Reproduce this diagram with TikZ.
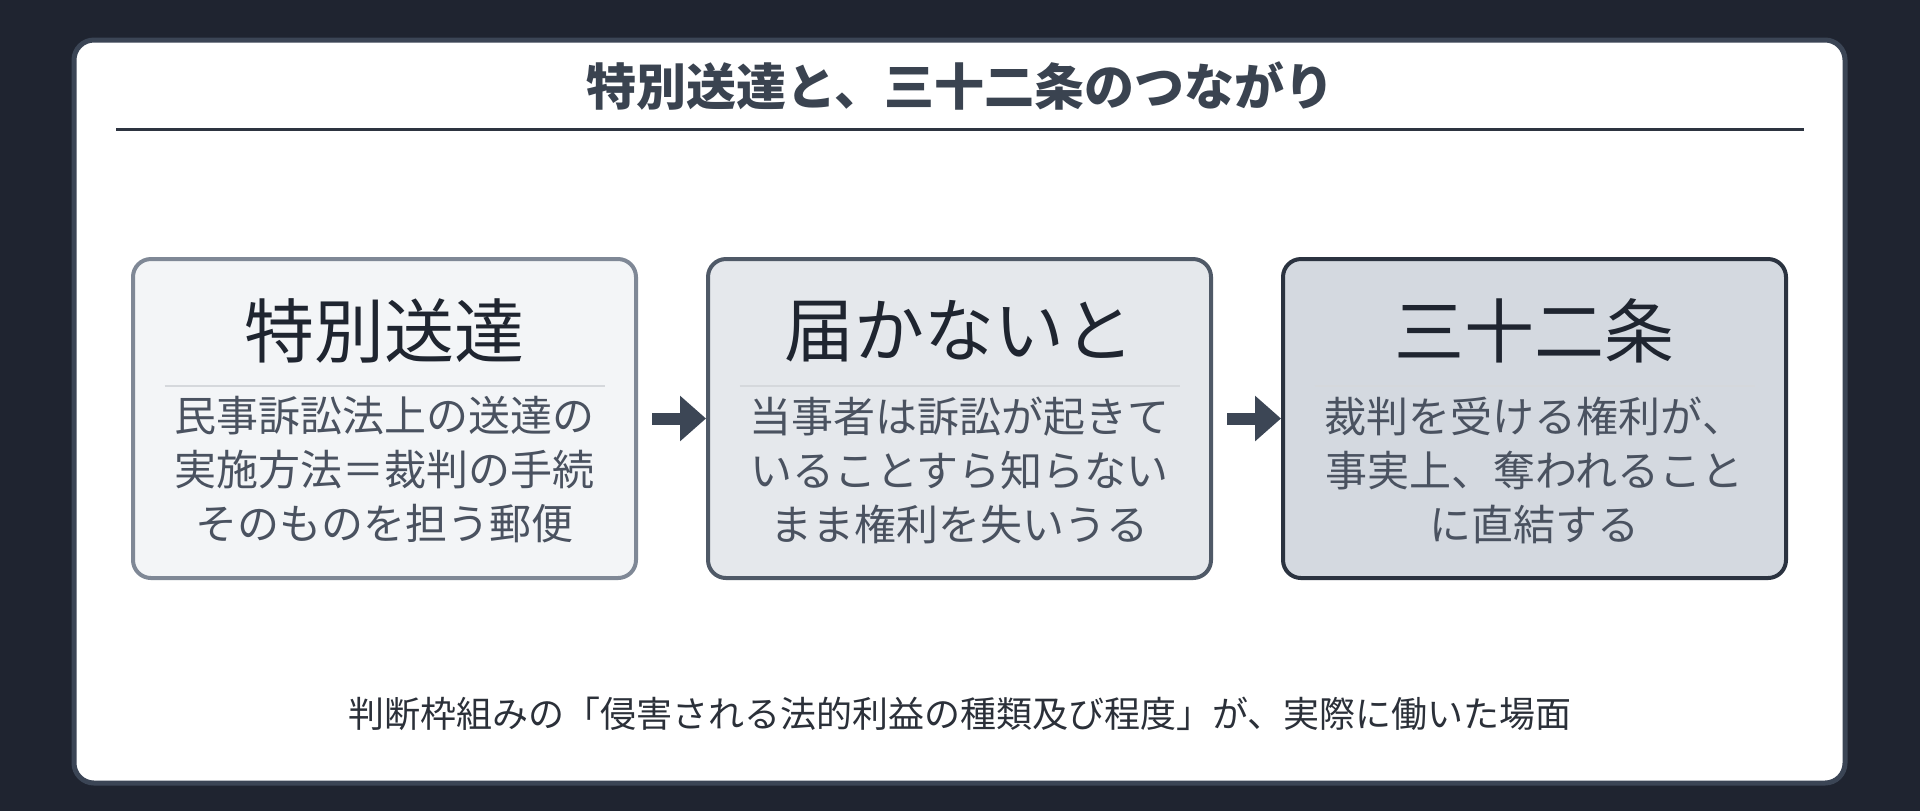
\documentclass[tikz,border=0pt]{standalone}
\usepackage{fontspec}
\setmainfont{Noto Sans CJK JP}
\usetikzlibrary{arrows.meta}
\definecolor{bgdark}{HTML}{1F2430}
\definecolor{cardedge}{HTML}{3B4555}
\definecolor{titleink}{HTML}{3A4350}
\definecolor{ruleink}{HTML}{2D3440}
\definecolor{fillA}{HTML}{F3F5F7}
\definecolor{edgeA}{HTML}{7F8896}
\definecolor{fillB}{HTML}{E5E8EC}
\definecolor{edgeB}{HTML}{4F5967}
\definecolor{fillC}{HTML}{D4D9E0}
\definecolor{edgeC}{HTML}{2B3340}
\definecolor{headink}{HTML}{1F2530}
\definecolor{bodyink}{HTML}{4A5260}
\definecolor{sepink}{HTML}{D5D8DC}
\definecolor{arrowink}{HTML}{3C4655}
\definecolor{footink}{HTML}{2B3039}

\begin{document}
\begin{tikzpicture}[x=0.5pt,y=-0.5pt,
    stagebox/.style={draw, rounded corners=9pt, line width=2pt, minimum width=251.5pt, minimum height=159.5pt},
    headtext/.style={font=\fontsize{35}{40}\selectfont, text=headink},
    bodytext/.style={font=\fontsize{21}{27}\selectfont, text=bodyink, align=center},
    sepline/.style={draw=sepink, line width=1pt},
    flow/.style={-{Triangle[length=13pt,width=22pt]}, line width=6pt, draw=arrowink, shorten <=7pt}]
    % Background and card
    \fill[bgdark] (0,0) rectangle (1920,811);
    \draw[rounded corners=10pt, line width=2.5pt, draw=cardedge, fill=white] (74,40) rectangle (1845,783);
    % Title
    \node[font=\bfseries\fontsize{25}{30}\selectfont, text=titleink] (title) at (960,86) {特別送達と、三十二条のつながり};
    \draw[draw=ruleink, line width=1.5pt] (116,129) -- (1804,129);
    % Boxes
    \node[stagebox, draw=edgeA, fill=fillA] (tokubetsu) at (384.5,418.5) {};
    \node[stagebox, draw=edgeB, fill=fillB] (todokanai) at (959.5,418.5) {};
    \node[stagebox, draw=edgeC, fill=fillC] (sanjuni) at (1534.5,418.5) {};
    % Headings
    \node[headtext] at (384.5,331) {特別送達};
    \node[headtext] at (959.5,331) {届かないと};
    \node[headtext] at (1534.5,331) {三十二条};
    % Separators
    \foreach \x in {384.5,959.5,1534.5}
        \draw[sepline] (\x-220,386) -- (\x+220,386);
    % Body texts
    \node[bodytext] at (384.5,470) {民事訴訟法上の送達の\\実施方法＝裁判の手続\\そのものを担う郵便};
    \node[bodytext] at (959.5,470) {当事者は訴訟が起きて\\いることすら知らない\\まま権利を失いうる};
    \node[bodytext] at (1534.5,470) {裁判を受ける権利が、\\事実上、奪われること\\に直結する};
    % Arrows
    \draw[flow] (tokubetsu.east) -- (todokanai.west);
    \draw[flow] (todokanai.east) -- (sanjuni.west);
    % Footer
    \node[font=\fontsize{18}{22}\selectfont, text=footink] (footer) at (960,714) {判断枠組みの「侵害される法的利益の種類及び程度」が、実際に働いた場面};
\end{tikzpicture}
\end{document}
